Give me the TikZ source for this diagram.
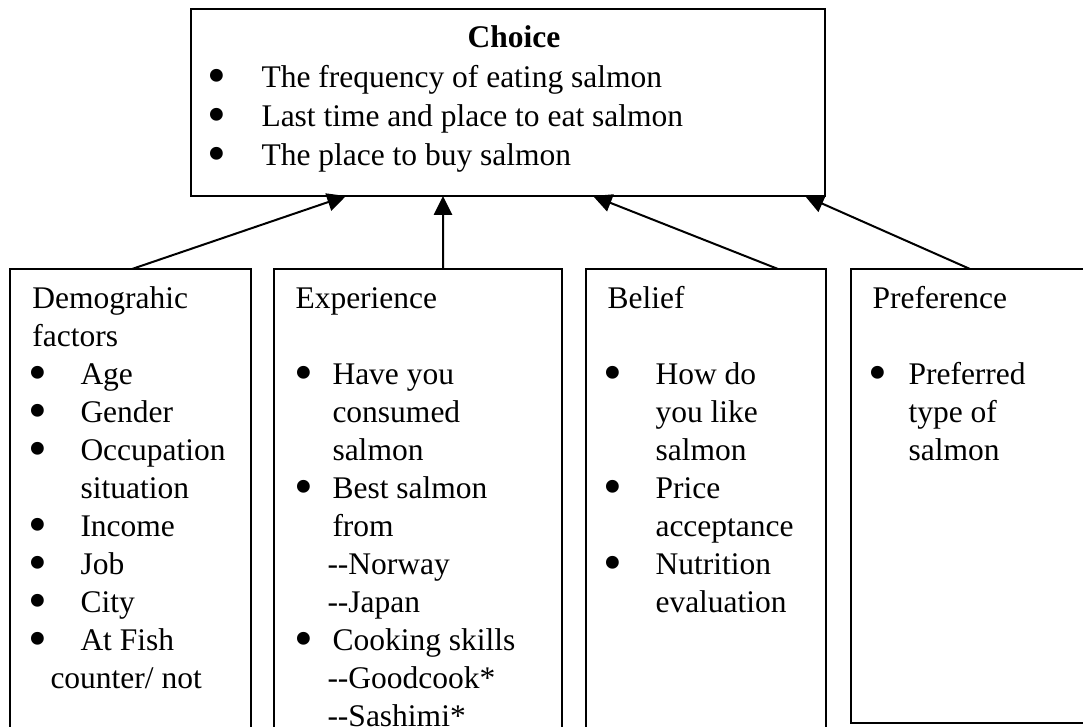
\documentclass[tikz,border=0pt]{standalone}
\usepackage{fontspec}
\usepackage{graphicx}
\setmainfont{Liberation Serif}
\usetikzlibrary{arrows.meta}
\newcommand{\bodyfont}{\fontsize{12.6}{15.2}\selectfont}
\newcommand{\fst}{\rule{0pt}{10pt}}
\newcommand{\bl}[1]{\makebox[#1][l]{\hspace*{-1.6pt}\raisebox{-0.18em}{\scalebox{1.7}{\textbullet}}}}

\begin{document}
\begin{tikzpicture}[x=0.4pt,y=-0.4pt,font=\bodyfont,
  box/.style={draw,line width=0.8pt,inner sep=0pt,outer sep=0pt,anchor=north west},
  txt/.style={anchor=north west,inner sep=0pt,align=left},
  arr/.style={-{Triangle[length=7.5pt,width=7.2pt]},line width=0.8pt},
]
\useasboundingbox (0,0) rectangle (1083,726);

% top box
\node[box,minimum width=253.6pt,minimum height=74.8pt] (choice) at (191,9) {};
\node[anchor=base,font={\bodyfont\bfseries}] (choicehd) at (514,48) {Choice};
\node[txt,font=\fontsize{12.6}{15.6}\selectfont] (choicelst) at (210.5,62)
  {\fst\bl{20.2pt}The frequency of eating salmon\\
   \bl{20.2pt}Last time and place to eat salmon\\
   \bl{20.2pt}The place to buy salmon};

% factor boxes
\node[box,minimum width=96.4pt,minimum height=184.4pt] (demo) at (10,269) {};
\node[box,minimum width=115.2pt,minimum height=184.4pt] (expr) at (274,269) {};
\node[box,minimum width=96pt,minimum height=184.4pt] (belief) at (586,269) {};
\node[box,minimum width=93.2pt,minimum height=181.6pt] (pref) at (851,269) {};

\node[txt] (demotxt) at (32,283)
  {\fst Demograhic\\
   factors\\
   \bl{19.2pt}Age\\
   \bl{19.2pt}Gender\\
   \bl{19.2pt}Occupation\\
   \hspace*{19.2pt}situation\\
   \bl{19.2pt}Income\\
   \bl{19.2pt}Job\\
   \bl{19.2pt}City\\
   \bl{19.2pt}At Fish\\
   \hspace*{7.2pt}counter/ not};
\node[txt] (exprtxt) at (295,283)
  {\fst Experience\\
   \mbox{}\\
   \hspace*{1pt}\bl{13.8pt}Have you\\
   \hspace*{14.8pt}consumed\\
   \hspace*{14.8pt}salmon\\
   \hspace*{1pt}\bl{13.8pt}Best salmon\\
   \hspace*{14.8pt}from\\
   \hspace*{12.8pt}-{}-Norway\\
   \hspace*{12.8pt}-{}-Japan\\
   \hspace*{1pt}\bl{13.8pt}Cooking skills\\
   \hspace*{12.8pt}-{}-Goodcook*\\
   \hspace*{12.8pt}-{}-Sashimi*};
\node[txt] (belieftxt) at (607,283)
  {\fst Belief\\
   \mbox{}\\
   \bl{19.2pt}How do\\
   \hspace*{19.2pt}you like\\
   \hspace*{19.2pt}salmon\\
   \bl{19.2pt}Price\\
   \hspace*{19.2pt}acceptance\\
   \bl{19.2pt}Nutrition\\
   \hspace*{19.2pt}evaluation};
\node[txt] (preftxt) at (872,283)
  {\fst Preference\\
   \mbox{}\\
   \bl{14.4pt}Preferred\\
   \hspace*{14.4pt}type of\\
   \hspace*{14.4pt}salmon};

% arrows into the choice box
\draw[arr] ([xshift=48.8pt]demo.north west) -- ([xshift=62pt]choice.south west);
\draw[arr] ([xshift=67.6pt]expr.north west) -- ([xshift=100.8pt]choice.south west);
\draw[arr] ([xshift=76.8pt]belief.north west) -- ([xshift=160.8pt]choice.south west);
\draw[arr] ([xshift=47.6pt]pref.north west) -- ([xshift=245.6pt]choice.south west);
\end{tikzpicture}
\end{document}
